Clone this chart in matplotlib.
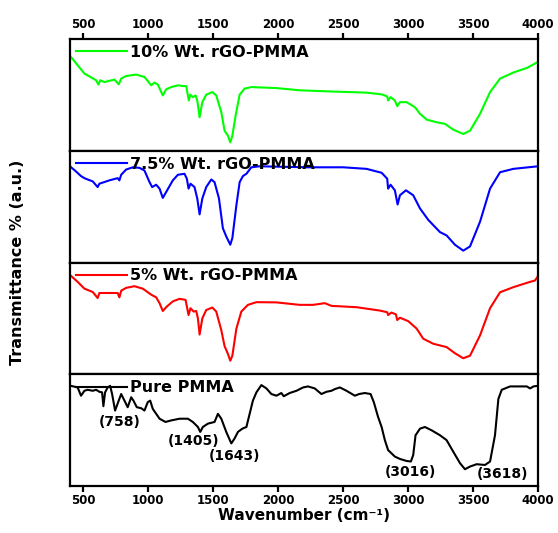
import matplotlib
matplotlib.use("Agg")
import matplotlib.pyplot as plt

plt.rcParams['font.family'] = 'DejaVu Sans'
plt.rcParams['font.weight'] = 'bold'

# wavenumber (cm-1) / transmittance (a.u., 0-100 inside each panel)
wn_10 = [400, 511, 601, 619, 632, 665, 742, 775, 794, 832, 909, 973, 1025, 1050, 1076, 1114, 1140,
         1179, 1230, 1268, 1294, 1314, 1325, 1345, 1366, 1379, 1397, 1418, 1448, 1495, 1525, 1564,
         1589, 1615, 1633, 1649, 1674, 1705, 1743, 1795, 1988, 2167, 2373, 2681, 2797, 2840, 2847,
         2866, 2899, 2917, 2938, 2989, 3053, 3092, 3143, 3220, 3284, 3348, 3425, 3477, 3554, 3631,
         3708, 3810, 3914, 4000]
t_10 = [85.0, 69.1, 63.1, 59.2, 63.1, 61.5, 63.7, 59.5, 64.6, 66.9, 68.2, 66.0, 58.6, 61.0, 59.2,
        49.5, 55.0, 57.0, 58.6, 57.9, 57.9, 45.0, 50.2, 48.0, 49.5, 45.0, 30.0, 43.5, 50.2, 52.5,
        49.5, 34.5, 18.0, 13.5, 7.5, 13.5, 31.5, 50.2, 55.6, 57.0, 56.1, 54.1, 53.2, 52.0, 50.5,
        48.6, 45.0, 48.0, 45.0, 39.9, 43.5, 43.5, 39.0, 33.1, 27.9, 25.5, 24.1, 18.9, 15.0, 18.0,
        33.1, 52.5, 64.6, 70.0, 74.1, 79.5]

wn_75 = [400, 447, 485, 511, 536, 575, 613, 626, 703, 767, 780, 794, 832, 883, 935, 973, 1012,
         1032, 1063, 1089, 1114, 1140, 1191, 1230, 1281, 1299, 1312, 1327, 1358, 1379, 1397, 1418,
         1448, 1487, 1512, 1546, 1576, 1602, 1633, 1649, 1680, 1705, 1730, 1757, 1795, 1859, 2231,
         2501, 2681, 2797, 2840, 2847, 2866, 2899, 2920, 2938, 2984, 3040, 3092, 3156, 3246, 3297,
         3361, 3425, 3477, 3554, 3631, 3708, 3810, 4000]
t_75 = [86.1, 81.4, 77.3, 75.5, 74.3, 72.6, 67.5, 70.5, 73.5, 75.5, 73.5, 78.5, 83.2, 85.2, 84.7,
        82.3, 71.9, 67.5, 69.6, 66.1, 57.8, 63.1, 73.5, 78.5, 79.4, 75.0, 66.1, 70.5, 67.5, 57.3,
        43.1, 57.3, 67.5, 74.3, 71.9, 57.3, 30.7, 23.3, 15.9, 21.9, 51.3, 71.9, 77.3, 79.4, 85.2,
        86.1, 85.2, 85.2, 83.8, 80.3, 75.0, 66.1, 69.6, 64.6, 51.9, 60.2, 64.6, 60.2, 48.4, 38.1,
        27.2, 24.2, 15.9, 10.6, 14.4, 36.5, 66.1, 80.8, 83.8, 86.1]

wn_5 = [400, 459, 511, 575, 613, 626, 703, 767, 780, 794, 832, 896, 960, 1025, 1063, 1089, 1114,
        1145, 1191, 1243, 1289, 1312, 1327, 1351, 1371, 1384, 1397, 1418, 1448, 1495, 1525, 1564,
        1589, 1615, 1633, 1649, 1680, 1718, 1769, 1834, 1988, 2167, 2270, 2360, 2411, 2604, 2783,
        2840, 2847, 2873, 2907, 2917, 2938, 3002, 3066, 3117, 3194, 3297, 3361, 3425, 3477, 3554,
        3631, 3708, 3810, 3939, 3977, 4000]
t_5 = [88.8, 82.7, 76.6, 73.6, 68.2, 72.7, 72.7, 72.7, 68.8, 74.8, 77.3, 78.8, 76.6, 71.2, 68.8,
       63.6, 56.6, 60.6, 65.2, 67.5, 66.6, 53.0, 59.1, 56.1, 56.6, 50.0, 35.5, 50.0, 57.5, 59.7,
       56.1, 39.4, 25.2, 18.2, 12.1, 16.6, 40.9, 56.1, 62.1, 64.5, 64.3, 62.1, 62.1, 63.6, 61.2,
       60.0, 57.0, 55.5, 53.0, 55.2, 53.6, 48.5, 50.6, 47.5, 40.9, 31.8, 27.3, 24.3, 18.8, 14.3,
       16.6, 34.8, 59.1, 73.4, 77.9, 82.7, 83.9, 87.9]

wn_pure = [408, 459, 485, 511, 536, 575, 601, 626, 647, 657, 670, 690, 709, 724, 747, 775, 794,
           819, 844, 871, 888, 914, 948, 973, 998, 1017, 1037, 1089, 1135, 1179, 1243, 1307, 1345,
           1384, 1402, 1422, 1461, 1512, 1538, 1564, 1602, 1641, 1666, 1692, 1726, 1757, 1782,
           1807, 1834, 1872, 1911, 1949, 1988, 2026, 2044, 2090, 2142, 2193, 2231, 2283, 2334,
           2373, 2411, 2437, 2476, 2527, 2591, 2624, 2668, 2712, 2737, 2770, 2797, 2822, 2847,
           2899, 2938, 2989, 3022, 3040, 3058, 3092, 3130, 3182, 3246, 3297, 3348, 3400, 3438,
           3477, 3528, 3592, 3631, 3669, 3695, 3721, 3785, 3914, 3939, 3965, 3995]
t_pure = [89.6, 88.2, 80.8, 85.2, 86.1, 85.2, 86.1, 84.3, 83.8, 71.4, 83.8, 88.2, 89.6, 82.3,
          67.5, 76.4, 82.3, 76.4, 70.5, 79.4, 76.4, 70.5, 69.6, 67.5, 75.0, 76.4, 69.0, 60.2,
          57.3, 58.7, 60.2, 60.2, 57.3, 52.8, 48.4, 52.8, 55.8, 57.3, 64.6, 60.2, 48.4, 38.1,
          42.5, 48.4, 51.3, 52.8, 64.6, 76.4, 83.8, 90.3, 87.3, 82.3, 80.8, 83.2, 80.3, 83.2,
          85.2, 88.2, 89.1, 87.3, 82.3, 84.3, 85.2, 86.7, 88.2, 85.2, 80.8, 82.3, 83.2, 82.3,
          75.0, 61.7, 52.8, 41.0, 32.1, 26.3, 24.2, 22.4, 21.9, 27.7, 45.4, 51.3, 52.8, 49.8,
          45.4, 41.0, 30.7, 20.4, 15.0, 17.4, 19.5, 18.8, 21.9, 45.4, 77.9, 86.1, 89.1, 89.1,
          87.3, 89.1, 89.6]

series = [
    (wn_10, t_10, '#00FF00', '10% Wt. rGO-PMMA'),
    (wn_75, t_75, '#0000FF', '7.5% Wt. rGO-PMMA'),
    (wn_5, t_5, '#FF0000', '5% Wt. rGO-PMMA'),
    (wn_pure, t_pure, 'black', 'Pure PMMA'),
]

peak_labels = ['(758)', '(1405)', '(1643)', '(3016)', '(3618)']
peak_x = [780, 1350, 1666, 3022, 3723]
peak_y = [57.5, 40.7, 27.0, 12.4, 11.0]

fig, axes = plt.subplots(4, 1, figsize=(5.58, 5.33), dpi=100, sharex=True)
fig.subplots_adjust(left=0.1254, right=0.9642, top=0.9268, bottom=0.0882, hspace=0)

for ax, (wn, t, col, lab) in zip(axes, series):
    ax.plot(wn, t, color=col, lw=1.5, label=lab)
    ax.set_xlim(400, 4000)
    ax.set_ylim(0, 100)
    ax.set_yticks([])
    for sp in ax.spines.values():
        sp.set_linewidth(1.6)
    ax.tick_params(axis='x', which='both', length=0, labelbottom=False)
    ax.legend(loc='upper left', frameon=False, fontsize=11.5, handlelength=3.2,
              handletextpad=0.2, borderaxespad=0.25, borderpad=0.12)

axes[0].set_xticks([500, 1000, 1500, 2000, 2500, 3000, 3500, 4000])
axes[0].tick_params(axis='x', top=True, labeltop=True, bottom=False, labelbottom=False,
                    direction='out', length=4, width=1.6, labelsize=8.5, pad=2)
axes[-1].tick_params(axis='x', bottom=True, labelbottom=True, direction='out',
                     length=4, width=1.6, labelsize=8.5, pad=2)
for lab in axes[0].get_xticklabels() + axes[-1].get_xticklabels():
    lab.set_fontweight('bold')

for s, x, y in zip(peak_labels, peak_x, peak_y):
    axes[-1].text(x, y, s, ha='center', va='center', fontsize=10, fontweight='bold')

fig.text(0.545, 0.024, 'Wavenumber (cm\u207b\u00b9)', ha='center', va='baseline',
         fontsize=11, fontweight='bold')
fig.text(0.032, 0.508, 'Transmittance % (a.u.)', rotation=90, ha='center', va='center',
         fontsize=11.5, fontweight='bold')

plt.savefig('out.png', dpi=100)
